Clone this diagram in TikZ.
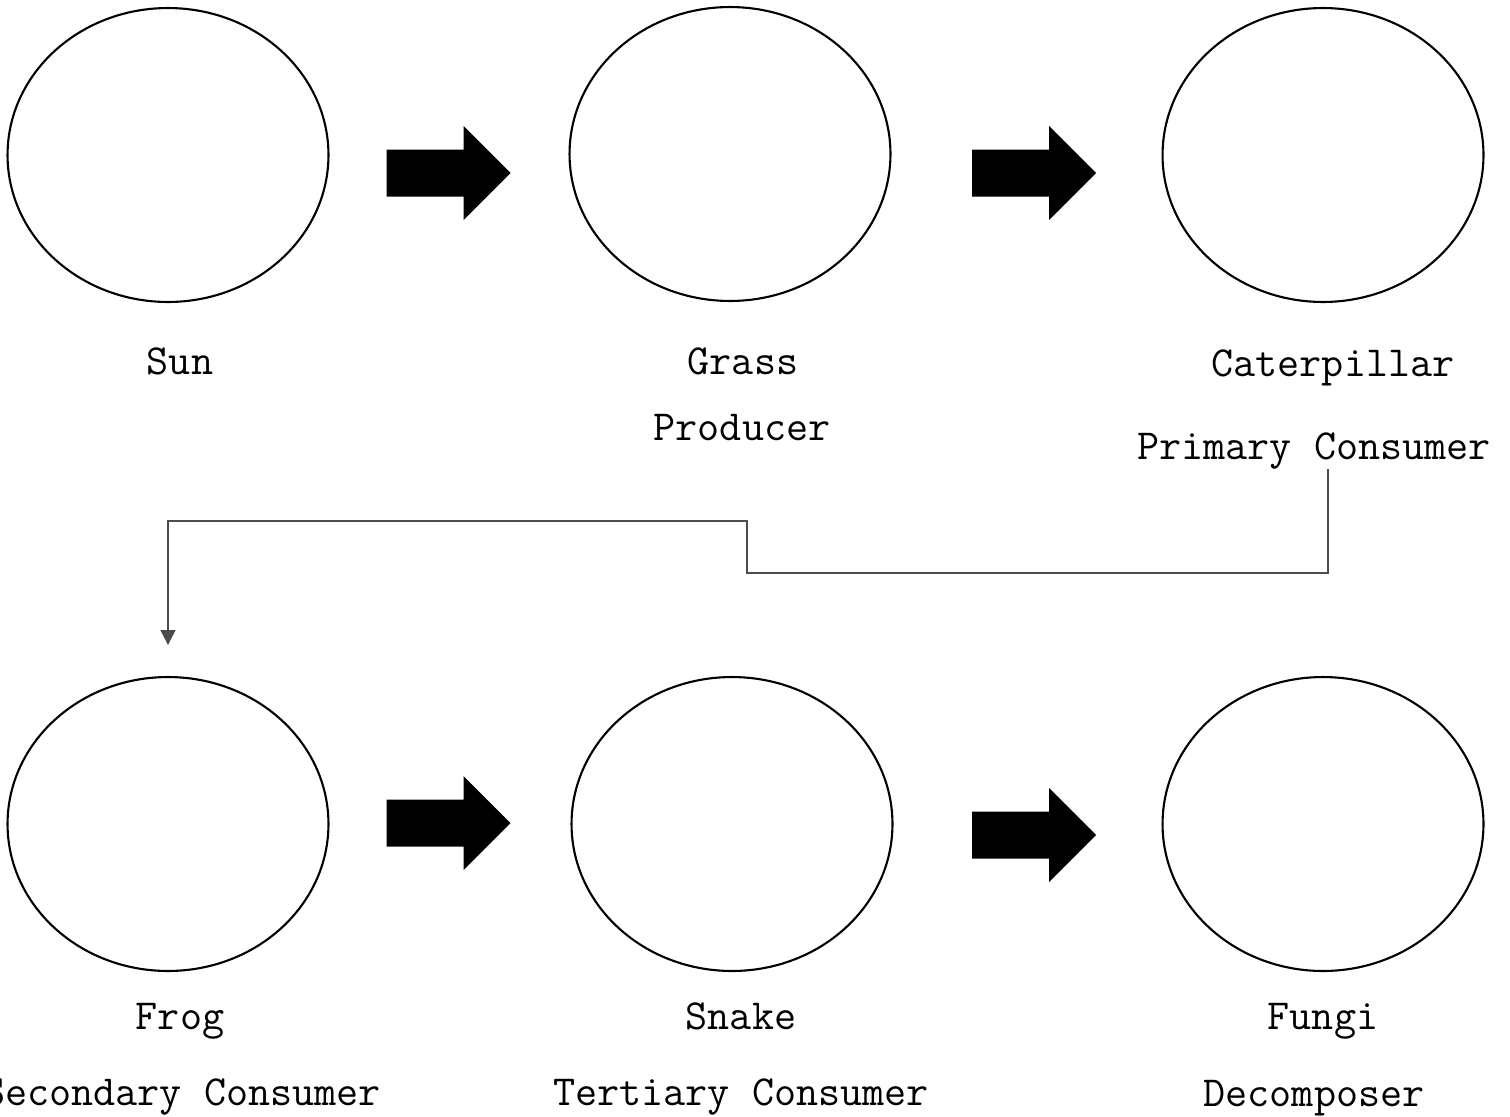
\documentclass[tikz,border=0pt]{standalone}
\usepackage{fontspec}
\usetikzlibrary{positioning}
\usetikzlibrary{shapes.geometric, arrows.meta}

\tikzset{
    organism/.style={
        ellipse,
        draw,
        line width=1.2pt,
        minimum width=6.42cm,
        minimum height=5.88cm
    },
    label text/.style={
        anchor=base,
        inner sep=0pt,
        font=\ttfamily\fontsize{24.4}{29}\selectfont
    },
    blockarrow/.pic={
        \fill (-62,-23.5) -- (15,-23.5) -- (15,-47) -- (62,0)
              -- (15,47) -- (15,23.5) -- (-62,23.5) -- cycle;
    }
}

\begin{document}
\begin{tikzpicture}[x=0.02cm, y=-0.02cm]
    \useasboundingbox (0,0) rectangle (1510,1116);

    % top row
    \node[organism] (sun) at (168,155) {};
    \node[organism] (grass) at (730,154) {};
    \node[organism] (cat) at (1323,155) {};
    \pic (arrA) at (448.5,173) {blockarrow};
    \pic (arrB) at (1034,173) {blockarrow};

    \node[label text] (sunlbl) at (180,374) {Sun};
    \node[label text] (grasslbl) at (743,374) {Grass};
    \node[label text] (prodlbl) at (742,440) {Producer};
    \node[label text] (catlbl) at (1333,376) {Caterpillar};
    \node[label text] (pclbl) at (1314,459) {Primary Consumer};

    % bottom row
    \node[organism] (frog) at (168,824) {};
    \node[organism] (snake) at (732,824) {};
    \node[organism] (fungi) at (1323,824) {};
    \pic (arrC) at (448.5,823) {blockarrow};
    \pic (arrD) at (1034,835) {blockarrow};

    \node[label text] (froglbl) at (180,1029) {Frog};
    \node[label text] (sclbl) at (182,1105) {Secondary Consumer};
    \node[label text] (snakelbl) at (741,1029) {Snake};
    \node[label text] (tclbl) at (741,1105) {Tertiary Consumer};
    \node[label text] (fungilbl) at (1323,1029) {Fungi};
    \node[label text] (declbl) at (1314,1106) {Decomposer};

    % connector from caterpillar to frog
    \coordinate (bend) at (747,521);
    \coordinate (frogtop) at (168,645);
    \draw[black!70, line width=0.8pt, -{Triangle[width=0.3cm, length=0.3cm]}]
        (pclbl.south -| 1328,0) -- (1328,573) -| (bend) -| (frogtop);
\end{tikzpicture}
\end{document}
